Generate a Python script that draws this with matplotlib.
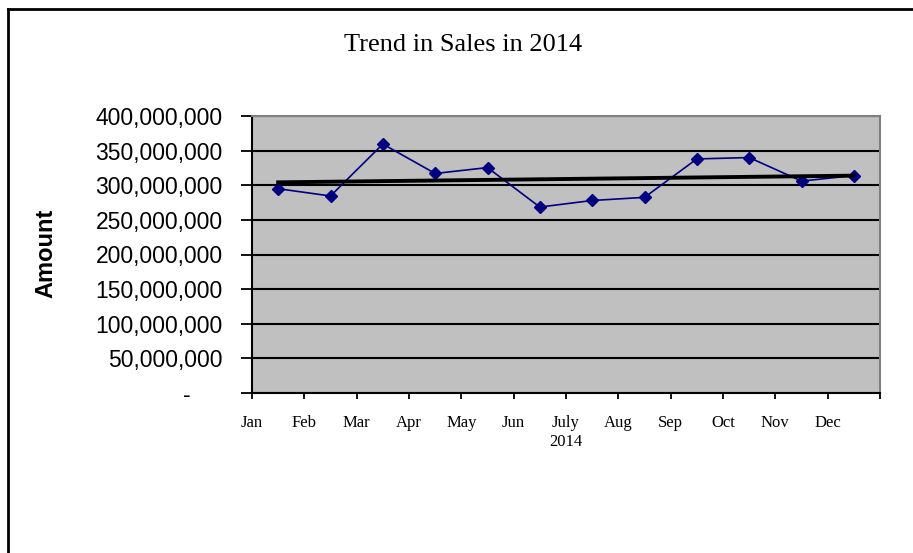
import matplotlib.pyplot as plt
import numpy as np
from matplotlib.lines import Line2D

# monthly sales
months = ['Jan', 'Feb', 'Mar', 'Apr', 'May', 'Jun',
          'July', 'Aug', 'Sep', 'Oct', 'Nov', 'Dec']
sales = [295e6, 284.5e6, 359.5e6, 317e6, 325.5e6, 268.5e6,
         278e6, 282.5e6, 338e6, 340e6, 306e6, 314e6]
yticks = [0, 50e6, 100e6, 150e6, 200e6, 250e6, 300e6, 350e6, 400e6]

W, H = 913, 553
fig = plt.figure(figsize=(W / 100, H / 100), dpi=100)
ax = fig.add_axes([252 / W, 1 - 393 / H, 628 / W, 277 / H])

x = np.arange(len(months))
ax.plot(x, sales, color='#000080', lw=1.2, marker='D', ms=6.5,
        mfc='#000080', mec='#000080', zorder=3)

# linear trend line
k, b = np.polyfit(x, sales, 1)
ax.plot(x, k * x + b, color='black', lw=2.8, zorder=4)

ax.set_facecolor('#C0C0C0')
ax.set_xlim(-0.5, 11.5)
ax.set_ylim(0, 400e6)

ax.set_yticks(yticks)
ax.set_yticklabels([f'{v:,.0f}' if v else '-     ' for v in yticks],
                   family='Liberation Sans', fontsize=16.5)
ax.yaxis.grid(True, color='black', lw=1.5)
ax.set_axisbelow(True)
ax.tick_params(axis='y', direction='out', length=8, width=1.3, pad=13)

ax.set_xticks(np.arange(13) - 0.5)
ax.set_xticklabels(months + [''], family='Liberation Serif', fontsize=12)
ax.tick_params(axis='x', direction='out', length=4, width=1.3, pad=12)
ax.set_xlabel('2014', family='Liberation Serif', fontsize=12, labelpad=2)

ax.set_ylabel('Amount', family='Liberation Sans', fontsize=17, fontweight='bold')
ax.yaxis.set_label_coords(-0.31, 0.505)

for s in ['top', 'right']:
    ax.spines[s].set_color('#808080')
    ax.spines[s].set_linewidth(1.5)
for s in ['left', 'bottom']:
    ax.spines[s].set_color('black')
    ax.spines[s].set_linewidth(1.5)

fig.text(463 / W, 1 - 45 / H, 'Trend in Sales in 2014', ha='center', va='center',
         family='Liberation Serif', fontsize=19)

# chart area border (left and top only visible)
fig.add_artist(Line2D([8 / W, 8 / W], [0, 1 - 9 / H], color='black', lw=2,
                      transform=fig.transFigure))
fig.add_artist(Line2D([8 / W, 1], [1 - 9 / H, 1 - 9 / H], color='black', lw=2,
                      transform=fig.transFigure))

fig.savefig('out.png', dpi=100)
